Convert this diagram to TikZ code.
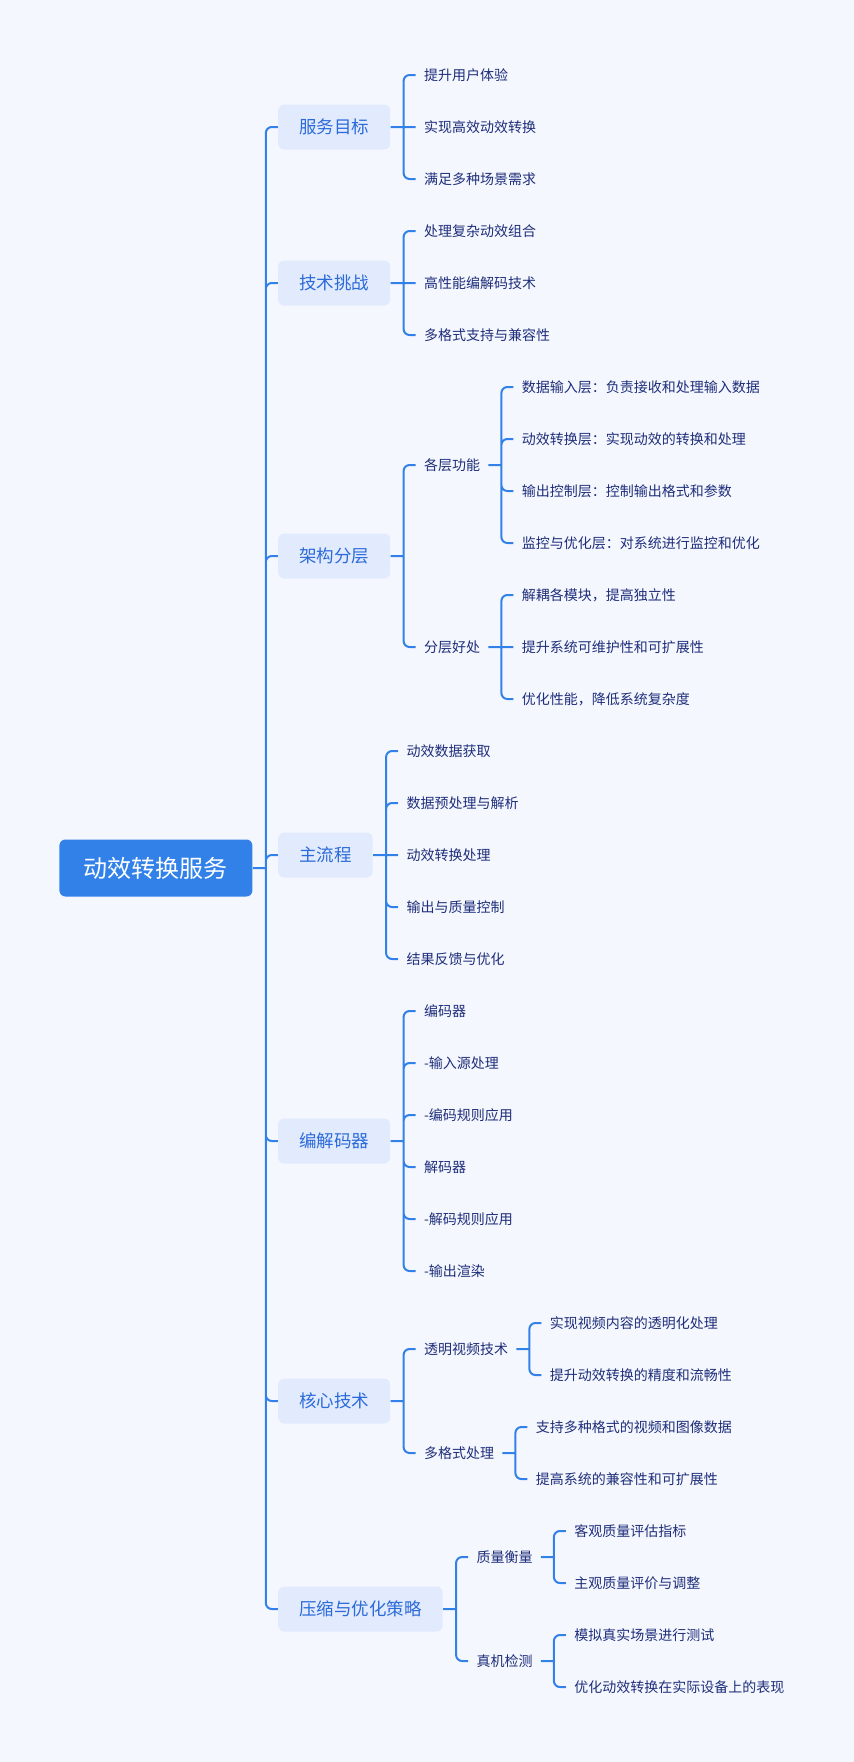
\documentclass[tikz,border=0pt]{standalone}
\usepackage{fontspec}
\newfontfamily\cjk{Noto Sans CJK SC}
\definecolor{bgcol}{HTML}{F5F7FE}
\definecolor{rootblue}{HTML}{3181E9}
\definecolor{topicfill}{HTML}{E2EAFD}
\definecolor{topictext}{HTML}{2B6BD9}
\definecolor{leaftext}{HTML}{1E2E7A}
\tikzset{
  rootbox/.style={anchor=west,fill=rootblue,text=white,rounded corners=3pt,inner xsep=12.25pt,minimum height=28.5pt,font=\cjk\fontsize{12pt}{14pt}\selectfont},
  topic/.style={anchor=west,xshift=6pt,fill=topicfill,text=topictext,rounded corners=3pt,inner xsep=10.5pt,minimum height=22.5pt,font=\cjk\fontsize{8.75pt}{10pt}\selectfont},
  leaf/.style={anchor=west,xshift=6pt,text=leaftext,inner xsep=4pt,font=\cjk\fontsize{7pt}{8pt}\selectfont},
  link/.style={draw=rootblue,line width=1pt,rounded corners=3pt}
}
\begin{document}
\begin{tikzpicture}[x=0.5pt,y=-0.5pt]
\fill[bgcol] (0,0) rectangle (854,1762);
\node[rootbox] (root) at (59,868) {动效转换服务};
\coordinate (rootb) at ([xshift=6.5pt]root.east);

\node[topic] (goal) at (rootb |- 0,127) {服务目标};
\node[topic] (chal) at (rootb |- 0,283) {技术挑战};
\node[topic] (arch) at (rootb |- 0,556) {架构分层};
\node[topic] (flow) at (rootb |- 0,855) {主流程};
\node[topic] (codec) at (rootb |- 0,1141) {编解码器};
\node[topic] (core) at (rootb |- 0,1401) {核心技术};
\node[topic] (opt) at (rootb |- 0,1609) {压缩与优化策略};
\coordinate (goalb) at ([xshift=6.5pt]goal.east);
\coordinate (chalb) at ([xshift=6.5pt]chal.east);
\coordinate (archb) at ([xshift=6.5pt]arch.east);
\coordinate (flowb) at ([xshift=6.5pt]flow.east);
\coordinate (codecb) at ([xshift=6.5pt]codec.east);
\coordinate (coreb) at ([xshift=6.5pt]core.east);
\coordinate (optb) at ([xshift=6.5pt]opt.east);

\node[leaf] (goal1) at (goalb |- 0,75) {提升用户体验};
\node[leaf] (goal2) at (goalb |- 0,127) {实现高效动效转换};
\node[leaf] (goal3) at (goalb |- 0,179) {满足多种场景需求};

\node[leaf] (chal1) at (chalb |- 0,231) {处理复杂动效组合};
\node[leaf] (chal2) at (chalb |- 0,283) {高性能编解码技术};
\node[leaf] (chal3) at (chalb |- 0,335) {多格式支持与兼容性};

\node[leaf] (layer) at (archb |- 0,465) {各层功能};
\node[leaf] (gain) at (archb |- 0,647) {分层好处};
\coordinate (layerb) at ([xshift=6.5pt]layer.east);
\coordinate (gainb) at ([xshift=6.5pt]gain.east);
\node[leaf] (layer1) at (layerb |- 0,387) {数据输入层：负责接收和处理输入数据};
\node[leaf] (layer2) at (layerb |- 0,439) {动效转换层：实现动效的转换和处理};
\node[leaf] (layer3) at (layerb |- 0,491) {输出控制层：控制输出格式和参数};
\node[leaf] (layer4) at (layerb |- 0,543) {监控与优化层：对系统进行监控和优化};
\node[leaf] (gain1) at (gainb |- 0,595) {解耦各模块，提高独立性};
\node[leaf] (gain2) at (gainb |- 0,647) {提升系统可维护性和可扩展性};
\node[leaf] (gain3) at (gainb |- 0,699) {优化性能，降低系统复杂度};

\node[leaf] (flow1) at (flowb |- 0,751) {动效数据获取};
\node[leaf] (flow2) at (flowb |- 0,803) {数据预处理与解析};
\node[leaf] (flow3) at (flowb |- 0,855) {动效转换处理};
\node[leaf] (flow4) at (flowb |- 0,907) {输出与质量控制};
\node[leaf] (flow5) at (flowb |- 0,959) {结果反馈与优化};

\node[leaf] (codec1) at (codecb |- 0,1011) {编码器};
\node[leaf] (codec2) at (codecb |- 0,1063) {-输入源处理};
\node[leaf] (codec3) at (codecb |- 0,1115) {-编码规则应用};
\node[leaf] (codec4) at (codecb |- 0,1167) {解码器};
\node[leaf] (codec5) at (codecb |- 0,1219) {-解码规则应用};
\node[leaf] (codec6) at (codecb |- 0,1271) {-输出渲染};

\node[leaf] (alpha) at (coreb |- 0,1349) {透明视频技术};
\node[leaf] (multi) at (coreb |- 0,1453) {多格式处理};
\coordinate (alphab) at ([xshift=6.5pt]alpha.east);
\coordinate (multib) at ([xshift=6.5pt]multi.east);
\node[leaf] (alpha1) at (alphab |- 0,1323) {实现视频内容的透明化处理};
\node[leaf] (alpha2) at (alphab |- 0,1375) {提升动效转换的精度和流畅性};
\node[leaf] (multi1) at (multib |- 0,1427) {支持多种格式的视频和图像数据};
\node[leaf] (multi2) at (multib |- 0,1479) {提高系统的兼容性和可扩展性};

\node[leaf] (qual) at (optb |- 0,1557) {质量衡量};
\node[leaf] (real) at (optb |- 0,1661) {真机检测};
\coordinate (qualb) at ([xshift=6.5pt]qual.east);
\coordinate (realb) at ([xshift=6.5pt]real.east);
\node[leaf] (qual1) at (qualb |- 0,1531) {客观质量评估指标};
\node[leaf] (qual2) at (qualb |- 0,1583) {主观质量评价与调整};
\node[leaf] (real1) at (realb |- 0,1635) {模拟真实场景进行测试};
\node[leaf] (real2) at (realb |- 0,1687) {优化动效转换在实际设备上的表现};

\draw[link] (root.east) -- (rootb) (rootb) |- (goal.west) (rootb) |- (chal.west) (rootb) |- (arch.west)
  (rootb) |- (flow.west) (rootb) |- (codec.west) (rootb) |- (core.west) (rootb) |- (opt.west);
\draw[link] (goal.east) -- (goalb) (goalb) |- (goal1.west) (goalb) -- (goal2.west) (goalb) |- (goal3.west);
\draw[link] (chal.east) -- (chalb) (chalb) |- (chal1.west) (chalb) -- (chal2.west) (chalb) |- (chal3.west);
\draw[link] (arch.east) -- (archb) (archb) |- (layer.west) (archb) |- (gain.west);
\draw[link] (layer.east) -- (layerb) (layerb) |- (layer1.west) (layerb) |- (layer2.west) (layerb) |- (layer3.west) (layerb) |- (layer4.west);
\draw[link] (gain.east) -- (gainb) (gainb) |- (gain1.west) (gainb) -- (gain2.west) (gainb) |- (gain3.west);
\draw[link] (flow.east) -- (flowb) (flowb) |- (flow1.west) (flowb) |- (flow2.west) (flowb) -- (flow3.west)
  (flowb) |- (flow4.west) (flowb) |- (flow5.west);
\draw[link] (codec.east) -- (codecb) (codecb) |- (codec1.west) (codecb) |- (codec2.west) (codecb) |- (codec3.west)
  (codecb) |- (codec4.west) (codecb) |- (codec5.west) (codecb) |- (codec6.west);
\draw[link] (core.east) -- (coreb) (coreb) |- (alpha.west) (coreb) |- (multi.west);
\draw[link] (alpha.east) -- (alphab) (alphab) |- (alpha1.west) (alphab) |- (alpha2.west);
\draw[link] (multi.east) -- (multib) (multib) |- (multi1.west) (multib) |- (multi2.west);
\draw[link] (opt.east) -- (optb) (optb) |- (qual.west) (optb) |- (real.west);
\draw[link] (qual.east) -- (qualb) (qualb) |- (qual1.west) (qualb) |- (qual2.west);
\draw[link] (real.east) -- (realb) (realb) |- (real1.west) (realb) |- (real2.west);
\end{tikzpicture}
\end{document}
